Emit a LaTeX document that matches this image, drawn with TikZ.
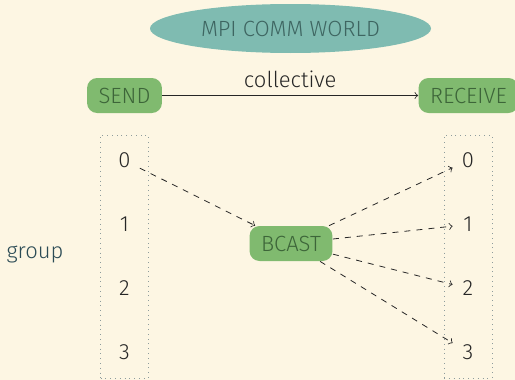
\documentclass[tikz,border=0pt]{standalone}
\usepackage{fontspec}
\setmainfont{Fira Sans}[UprightFont=* Light]
\usepackage{xcolor}
\usepackage{tikz}
\usetikzlibrary{shapes.geometric, arrows.meta, positioning, fit}

\definecolor{bgcream}{HTML}{FDF6E3}
\definecolor{worldteal}{HTML}{7FBBB1}
\definecolor{worldtext}{HTML}{3E6561}
\definecolor{procgreen}{HTML}{80BA6F}
\definecolor{proctext}{HTML}{3D6539}
\definecolor{ranktext}{HTML}{262626}
\definecolor{grouptext}{HTML}{2B4B55}
\definecolor{boxgray}{HTML}{8E9C9C}

\begin{document}
\begin{tikzpicture}[
  x=0.5pt, y=-0.5pt,
  font=\fontsize{11}{13}\selectfont,
  world/.style={ellipse, fill=worldteal, text=worldtext, minimum width=140.5pt, minimum height=24.5pt, inner sep=0pt},
  proc/.style={rectangle, fill=procgreen, text=proctext, rounded corners=5pt, minimum height=17.5pt, inner xsep=5.75pt},
  rank/.style={text=ranktext, minimum size=15pt, inner sep=0pt},
  groupbox/.style={draw=boxgray, dotted, inner xsep=4.25pt, inner ysep=5pt},
  arrow/.style={->, >=to, ranktext},
  dashed_arrow/.style={->, >=to, ranktext, dashed}
]
\fill[bgcream] (0,0) rectangle (515,380);
\useasboundingbox (0,0) rectangle (515,380);

% Communicator
\node (world) [world] at (290.5,28.5) {MPI COMM WORLD};

% Collective call
\node (send) [proc] at (124.5,95.5) {SEND};
\node (recv) [proc] at (468.5,95.5) {RECEIVE};
\draw [arrow] (send) -- (recv) node[midway, above=0.5pt, text=ranktext] {collective};

% Sending group
\node (l0) [rank] at (124.5,160.5) {0};
\node (l1) [rank] at (124.5,224.5) {1};
\node (l2) [rank] at (124.5,288.5) {2};
\node (l3) [rank] at (124.5,352.5) {3};
\node (lbox) [groupbox, fit=(l0)(l3)] {};

% Receiving group
\node (r0) [rank] at (468,160.5) {0};
\node (r1) [rank] at (468,224.5) {1};
\node (r2) [rank] at (468,288.5) {2};
\node (r3) [rank] at (468,352.5) {3};
\node (rbox) [groupbox, fit=(r0)(r3)] {};

\node (group) [text=grouptext] at (35,255) {group};

% Broadcast
\node (bcast) [proc] at (291,243.5) {BCAST};

% Arrows
\draw [dashed_arrow] (l0) -- (bcast);
\draw [dashed_arrow] (bcast) -- (r0);
\draw [dashed_arrow] (bcast) -- (r1);
\draw [dashed_arrow] (bcast) -- (r2);
\draw [dashed_arrow] (bcast) -- (r3);
\end{tikzpicture}
\end{document}
